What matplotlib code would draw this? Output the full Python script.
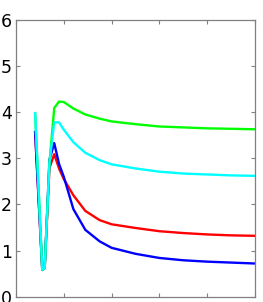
import matplotlib
matplotlib.use("Agg")
import matplotlib.pyplot as plt

# sample positions (x axis runs 0..50, no tick labels)
x = [4, 5.5, 6, 7, 8, 9, 10, 12, 14.5, 17.5, 20, 25, 30, 35, 40, 45, 50]

blue = [3.57, 0.58, 0.62, 2.97, 3.33, 2.88, 2.6, 1.9, 1.45, 1.2, 1.06, 0.93, 0.84, 0.79, 0.76, 0.74, 0.72]
red = [3.57, 0.58, 0.62, 2.79, 3.09, 2.78, 2.55, 2.2, 1.86, 1.66, 1.57, 1.49, 1.42, 1.38, 1.35, 1.33, 1.32]
green = [3.98, 0.58, 0.62, 2.9, 4.09, 4.23, 4.22, 4.08, 3.95, 3.86, 3.8, 3.74, 3.69, 3.67, 3.65, 3.64, 3.63]
cyan = [3.98, 0.58, 0.62, 2.9, 3.78, 3.78, 3.62, 3.35, 3.12, 2.96, 2.87, 2.78, 2.71, 2.67, 2.65, 2.63, 2.62]

y_ticks = [0, 1, 2, 3, 4, 5, 6]
x_ticks = [0, 10, 20, 30, 40, 50]

fig = plt.figure(figsize=(2.63, 3.02), dpi=100)
ax = fig.add_axes([0.0608, 0.0175, 0.9088, 0.9165])

lw = 1.7
ax.plot(x, red, color="#ff0000", lw=lw)
ax.plot(x, blue, color="#0000ff", lw=lw)
ax.plot(x, green, color="#00ff00", lw=lw)
ax.plot(x, cyan, color="#00ffff", lw=lw)

ax.set_xlim(0, 50)
ax.set_ylim(0, 6)
ax.set_xticks(x_ticks)
ax.set_yticks(y_ticks)
ax.set_xticklabels([])
ax.tick_params(direction="in", length=3, width=0.8, color="#808080",
               top=True, right=True, labelsize=12.5, pad=3)
for lab in ax.get_yticklabels():
    lab.set_family(["Liberation Sans Narrow", "DejaVu Sans"])
for s in ax.spines.values():
    s.set_color("#808080")
    s.set_linewidth(0.9)

fig.savefig("out.png", dpi=100)
